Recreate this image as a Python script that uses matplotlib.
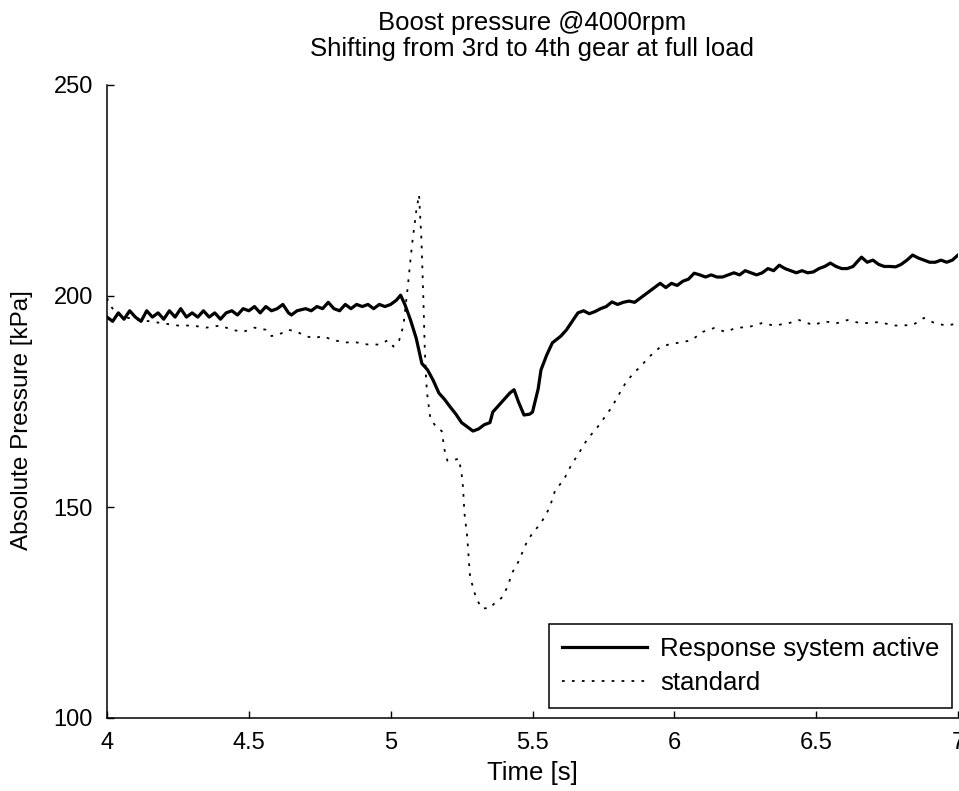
import matplotlib
matplotlib.use("Agg")
import matplotlib.pyplot as plt

# Response system active (solid)
t_active = [4.00, 4.02, 4.04, 4.06, 4.08, 4.10, 4.12, 4.14, 4.16, 4.18, 4.20, 4.22, 4.24, 4.26, 4.28,
            4.30, 4.32, 4.34, 4.36, 4.38, 4.40, 4.42, 4.44, 4.46, 4.48, 4.50, 4.52, 4.54, 4.56, 4.58,
            4.60, 4.62, 4.64, 4.65, 4.67, 4.70, 4.72, 4.74, 4.76, 4.78, 4.80, 4.82, 4.84, 4.86, 4.88,
            4.90, 4.92, 4.94, 4.96, 4.98, 5.00, 5.02, 5.035, 5.05, 5.07, 5.09, 5.11, 5.13, 5.15, 5.17,
            5.19, 5.21, 5.23, 5.25, 5.27, 5.29, 5.31, 5.33, 5.35, 5.36, 5.38, 5.40, 5.42, 5.435, 5.45,
            5.47, 5.49, 5.50, 5.52, 5.53, 5.55, 5.57, 5.60, 5.62, 5.64, 5.66, 5.68, 5.70, 5.72, 5.74,
            5.76, 5.78, 5.80, 5.82, 5.84, 5.86, 5.88, 5.90, 5.92, 5.94, 5.95, 5.97, 5.99, 6.01, 6.03,
            6.05, 6.07, 6.09, 6.11, 6.13, 6.15, 6.17, 6.19, 6.21, 6.23, 6.25, 6.27, 6.29, 6.31, 6.33,
            6.35, 6.37, 6.39, 6.41, 6.43, 6.45, 6.47, 6.49, 6.51, 6.53, 6.55, 6.57, 6.59, 6.61, 6.63,
            6.65, 6.66, 6.68, 6.70, 6.72, 6.74, 6.76, 6.78, 6.80, 6.82, 6.84, 6.86, 6.88, 6.90, 6.92,
            6.94, 6.96, 6.98, 7.00]
p_active = [195.0, 194.0, 196.0, 194.5, 196.5, 195.0, 194.0, 196.5, 195.0, 196.0, 194.5, 196.5, 195.0, 197.0, 195.0,
            196.0, 195.0, 196.5, 195.0, 196.0, 194.5, 196.0, 196.5, 195.5, 197.0, 196.5, 197.5, 196.0, 197.5, 196.5,
            197.0, 198.0, 196.0, 195.5, 196.5, 197.0, 196.5, 197.5, 197.0, 198.5, 197.0, 196.5, 198.0, 197.0, 198.0,
            197.5, 198.0, 197.0, 198.0, 197.5, 198.0, 199.0, 200.2, 198.0, 194.3, 190.0, 184.0, 182.5, 180.0, 177.0,
            175.5, 173.7, 172.0, 170.0, 169.0, 168.0, 168.5, 169.5, 170.0, 172.5, 174.0, 175.5, 177.0, 177.8, 175.0,
            171.8, 172.0, 172.5, 178.0, 182.5, 186.0, 188.9, 190.5, 192.0, 194.0, 196.0, 196.5, 195.8, 196.3, 197.0,
            197.5, 198.6, 198.0, 198.5, 198.8, 198.5, 199.5, 200.5, 201.5, 202.5, 203.0, 202.0, 203.0, 202.5, 203.5,
            204.0, 205.4, 205.0, 204.5, 205.0, 204.5, 204.5, 205.0, 205.5, 205.0, 206.0, 205.5, 205.0, 205.5, 206.5,
            206.0, 207.3, 206.5, 206.0, 205.5, 206.0, 205.5, 205.7, 206.5, 207.0, 207.8, 207.0, 206.5, 206.5, 207.0,
            208.5, 209.2, 208.0, 208.5, 207.5, 207.0, 207.0, 206.9, 207.5, 208.5, 209.7, 209.0, 208.5, 208.0, 208.0,
            208.5, 208.0, 208.5, 209.7]

# standard (dotted)
t_std = [4.00, 4.01, 4.03, 4.06, 4.10, 4.15, 4.20, 4.25, 4.30, 4.35, 4.40, 4.44, 4.48, 4.52, 4.56,
         4.58, 4.61, 4.64, 4.67, 4.70, 4.73, 4.76, 4.80, 4.84, 4.88, 4.92, 4.96, 4.99, 5.01, 5.03,
         5.045, 5.06, 5.075, 5.09, 5.10, 5.108, 5.115, 5.12, 5.125, 5.13, 5.14, 5.16, 5.18, 5.19, 5.20,
         5.22, 5.24, 5.25, 5.255, 5.26, 5.27, 5.275, 5.28, 5.30, 5.32, 5.35, 5.37, 5.39, 5.41, 5.43,
         5.45, 5.48, 5.50, 5.53, 5.56, 5.58, 5.61, 5.64, 5.66, 5.68, 5.70, 5.73, 5.76, 5.78, 5.81,
         5.83, 5.86, 5.88, 5.91, 5.95, 5.98, 6.02, 6.06, 6.10, 6.14, 6.18, 6.22, 6.26, 6.31, 6.35,
         6.40, 6.44, 6.49, 6.53, 6.57, 6.61, 6.66, 6.72, 6.78, 6.84, 6.88, 6.92, 6.96, 7.00]
p_std = [199.5, 198.0, 196.0, 195.0, 194.5, 194.0, 193.5, 193.0, 193.0, 192.5, 193.0, 192.0, 191.5, 192.5, 192.0,
         190.5, 191.0, 192.0, 191.5, 190.5, 190.0, 190.5, 189.5, 189.0, 189.0, 188.5, 188.5, 189.5, 188.0, 189.5,
         193.0, 202.0, 212.0, 220.0, 224.0, 214.0, 200.0, 188.0, 180.0, 176.0, 171.0, 169.0, 168.0, 163.5, 161.0,
         161.0, 161.5, 158.0, 154.7, 148.6, 142.9, 138.0, 133.4, 128.7, 126.0, 126.0, 127.5, 128.4, 130.8, 134.6,
         137.0, 141.7, 143.8, 146.2, 149.8, 154.0, 156.4, 160.4, 162.3, 164.7, 166.6, 169.0, 171.8, 173.7, 177.3,
         179.6, 182.0, 183.2, 185.5, 187.9, 188.5, 189.0, 189.5, 191.5, 192.4, 191.5, 192.5, 192.6, 193.6, 193.0,
         193.5, 194.3, 193.1, 194.0, 193.5, 194.3, 193.5, 193.8, 193.0, 193.1, 194.8, 193.5, 193.0, 193.5]

x_ticks = [4, 4.5, 5, 5.5, 6, 6.5, 7]
x_ticklabels = ['4', '4.5', '5', '5.5', '6', '6.5', '7']
y_ticks = [100, 150, 200, 250]

font = 'Liberation Sans'

fig = plt.figure(figsize=(9.59, 7.91), dpi=100)
ax = fig.add_axes([107 / 959, 73 / 791, 851 / 959, 633 / 791])

ax.plot(t_active, p_active, color='black', linewidth=2.3, label='Response system active')
ax.plot(t_std, p_std, color='black', linewidth=1.3, linestyle=(0, (1.5, 4.0)), label='standard')

ax.set_xlim(4, 7)
ax.set_ylim(100, 250)
ax.set_xticks(x_ticks)
ax.set_xticklabels(x_ticklabels, fontfamily=font, fontsize=17)
ax.set_yticks(y_ticks)
ax.set_yticklabels([str(v) for v in y_ticks], fontfamily=font, fontsize=17)
ax.tick_params(direction='in', length=5, width=1, pad=10)

for side in ['top', 'right']:
    ax.spines[side].set_visible(False)
for side in ['left', 'bottom']:
    ax.spines[side].set_linewidth(1.1)

ax.set_xlabel('Time [s]', fontfamily=font, fontsize=18.5, labelpad=5)
ax.set_ylabel('Absolute Pressure [kPa]', fontfamily=font, fontsize=17.5)
ax.yaxis.set_label_coords(-0.087, 0.47)
ax.set_title('Boost pressure @4000rpm\nShifting from 3rd to 4th gear at full load',
             fontfamily=font, fontsize=18.5, pad=21, linespacing=1.1)

leg = ax.legend(loc='lower right', bbox_to_anchor=(0.993, 0.016), prop={'family': font, 'size': 18.5},
                frameon=True, fancybox=False, edgecolor='black', framealpha=1,
                handlelength=3.3, handletextpad=0.5, borderpad=0.5, labelspacing=0.4, borderaxespad=0)
leg.get_frame().set_linewidth(1.1)

fig.savefig('out.png', dpi=100)
